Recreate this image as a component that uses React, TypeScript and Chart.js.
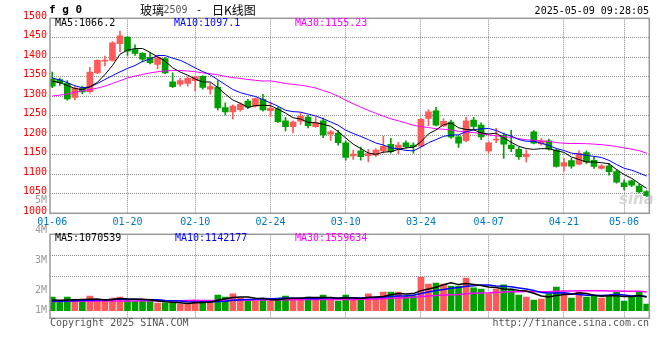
import { useEffect, useRef } from 'react';
import { Chart, registerables } from 'chart.js';

Chart.register(...registerables);

// ---------------- data ----------------
const dates = [
  '01-06','01-07','01-08','01-09','01-10','01-13','01-14','01-15','01-16','01-17',
  '01-20','01-21','01-22','01-23','01-24','01-27','02-05','02-06','02-07','02-10',
  '02-11','02-12','02-13','02-14','02-17','02-18','02-19','02-20','02-21','02-24',
  '02-25','02-26','02-27','02-28','03-03','03-04','03-05','03-06','03-07','03-10',
  '03-11','03-12','03-13','03-14','03-17','03-18','03-19','03-20','03-21','03-24',
  '03-25','03-26','03-27','03-28','03-31','04-01','04-02','04-03','04-07','04-08',
  '04-09','04-10','04-11','04-14','04-15','04-16','04-17','04-18','04-21','04-22',
  '04-23','04-24','04-25','04-28','04-29','04-30','05-06','05-07','05-08','05-09',
];

const opens = [
  1344,1343,1333,1297,1321,1312,1360,1390,1392,1435,
  1452,1420,1410,1400,1382,1397,1337,1331,1333,1340,
  1351,1318,1323,1271,1260,1266,1288,1275,1292,1263,
  1268,1237,1222,1236,1247,1222,1237,1203,1206,1181,
  1147,1160,1148,1149,1160,1177,1165,1181,1175,1172,
  1243,1263,1224,1234,1196,1186,1239,1226,1160,1188,
  1200,1175,1164,1145,1209,1178,1186,1162,1121,1135,
  1126,1156,1136,1115,1122,1107,1078,1083,1070,1056,
];
const highs = [
  1362,1347,1340,1325,1326,1374,1394,1403,1440,1467,
  1453,1432,1412,1411,1403,1399,1360,1346,1350,1351,
  1353,1334,1340,1283,1278,1283,1292,1296,1305,1285,
  1272,1246,1237,1258,1251,1247,1244,1213,1213,1186,
  1162,1170,1164,1166,1198,1192,1182,1186,1181,1243,
  1265,1272,1243,1239,1200,1246,1246,1232,1183,1218,
  1206,1213,1170,1162,1212,1192,1190,1165,1141,1141,
  1160,1160,1145,1125,1128,1112,1086,1085,1074,1058,
];
const lows = [
  1322,1328,1290,1291,1306,1308,1358,1378,1390,1414,
  1405,1405,1388,1383,1371,1358,1322,1326,1326,1314,
  1318,1306,1265,1252,1242,1262,1268,1272,1262,1248,
  1233,1211,1206,1228,1219,1220,1194,1187,1175,1136,
  1138,1136,1132,1146,1154,1154,1152,1167,1154,1170,
  1225,1224,1222,1192,1169,1183,1213,1189,1154,1181,
  1141,1158,1138,1132,1178,1175,1162,1118,1108,1116,
  1124,1128,1115,1113,1098,1077,1060,1068,1052,1043,
];
const closes = [
  1326,1335,1293,1321,1311,1362,1392,1393,1437,1455,
  1416,1410,1395,1386,1400,1360,1325,1340,1346,1350,
  1323,1325,1270,1260,1275,1280,1272,1294,1265,1269,
  1235,1222,1234,1249,1225,1232,1201,1209,1181,1143,
  1152,1145,1153,1162,1172,1158,1175,1171,1171,1241,
  1260,1226,1236,1195,1180,1237,1223,1196,1181,1190,
  1177,1166,1145,1152,1180,1186,1165,1120,1130,1121,
  1154,1132,1120,1122,1107,1080,1068,1072,1055,1045,
];
// volume, millions
const volumes = [
  1.18,0.84,1.18,0.92,0.72,1.27,0.92,0.84,1.10,1.18,
  1.01,0.84,0.84,0.84,0.66,0.66,0.66,0.58,0.58,0.92,
  0.84,0.84,1.36,1.18,1.45,1.10,0.84,0.84,1.10,0.84,
  1.10,1.27,1.10,1.10,1.18,1.01,1.36,1.01,0.84,1.36,
  0.92,1.10,1.45,1.10,1.62,1.62,1.62,1.27,1.27,2.92,
  2.31,2.40,2.31,2.14,2.14,2.83,1.97,1.88,1.45,1.88,
  2.23,1.88,1.36,1.18,0.92,1.01,1.45,2.05,1.53,1.10,
  1.62,1.18,1.27,1.10,1.27,1.62,0.84,1.27,1.62,0.58,
];

const ma5Head = [1339, 1335, 1328, 1320];
const ma10Head = [1347, 1342, 1335, 1327, 1322, 1324, 1333, 1343, 1353];
const ma30Head = [
  1301,1303,1306,1310,1314,1317,1321,1326,1333,1340,
  1347,1352,1356,1360,1363,1365,1366,1366,1365,1363,
  1360,1358,1355,1351,1348,1346,1343,1341,1339,
];
const vma5Head = [0.92, 0.90, 0.92, 0.94];
const vma10Head = [0.82, 0.82, 0.84, 0.86, 0.88, 0.90, 0.92, 0.94, 0.96];
const vma30Head = [
  0.80,0.80,0.81,0.81,0.82,0.82,0.83,0.83,0.84,0.84,
  0.85,0.85,0.86,0.86,0.86,0.87,0.87,0.87,0.88,0.88,
  0.88,0.89,0.89,0.90,0.90,0.91,0.91,0.92,0.93,
];

const xTickLabels = ['01-06','01-20','02-10','02-24','03-10','03-24','04-07','04-21','05-06'];
const priceMin = 1000;
const priceMax = 1500;
const priceStep = 50;
const volAxisLabels = ['5M','4M','3M','2M','1M'];

const titleCode = 'f g 0';
const titleParts = ['玻璃', '2509', '-', '日K线图'];
const timestamp = '2025-05-09 09:28:05';
const priceLegend = ['MA5:1066.2', 'MA10:1097.1', 'MA30:1155.23'];
const volLegend = ['MA5:1070539', 'MA10:1142177', 'MA30:1559634'];
const copyright = 'Copyright 2025 SINA.COM';
const siteUrl = 'http://finance.sina.com.cn';
const watermark = 'sina';

// ---------------- styles ----------------
const RED = '#ff5a5a';
const GREEN = '#00a000';
const MA_COLORS = ['#000000', '#0000ff', '#ff00ff'];
const FRAME = '#999999';
const GRID = '#8c8c8c';
const X_LABEL = '#0078c8';
const MONO = '"DejaVu Sans Mono", monospace';
const CJK = '"Noto Sans CJK SC", sans-serif';

function movingAvg(src: number[], n: number, head: number[]): number[] {
  return src.map((_, i) => {
    if (i < n - 1) return head[i];
    let s = 0;
    for (let k = i - n + 1; k <= i; k++) s += src[k];
    return s / n;
  });
}

const N = dates.length;
const X_MIN = -0.3;
const X_MAX = N - 1 + 0.35;
const tickIdx = xTickLabels.map((l) => dates.indexOf(l));
const candleColors = closes.map((c, i) => (c >= opens[i] ? RED : GREEN));

function text(ctx: CanvasRenderingContext2D, s: string, x: number, y: number, color: string, font: string, align: CanvasTextAlign = 'left') {
  ctx.font = font;
  ctx.fillStyle = color;
  ctx.textAlign = align;
  ctx.textBaseline = 'middle';
  ctx.fillText(s, x, y);
}

function xAxis(showLabels: boolean): any {
  return {
    type: 'linear',
    min: X_MIN,
    max: X_MAX,
    offset: false,
    afterBuildTicks: (s: any) => {
      s.ticks = tickIdx.map((v) => ({ value: v }));
    },
    afterFit: (s: any) => {
      s.height = showLabels ? 18.7 : 0;
    },
    ticks: {
      display: showLabels,
      autoSkip: false,
      maxRotation: 0,
      minRotation: 0,
      padding: 3,
      color: X_LABEL,
      font: { family: MONO, size: 10 },
      callback: (v: number) => dates[v],
    },
    grid: {
      display: true,
      drawOnChartArea: true,
      offset: false,
      drawTicks: false,
      lineWidth: 1,
      color: (c: any) => (c.tick && c.tick.value === 0 ? 'rgba(0,0,0,0)' : GRID),
    },
    border: { display: false, dash: [1, 1] },
  };
}

function lineDs(values: number[], color: string, width: number) {
  return {
    type: 'line' as const,
    data: values.map((y, i) => ({ x: i, y })),
    borderColor: color,
    borderWidth: width,
    pointRadius: 0,
    tension: 0,
    fill: false,
    order: 0,
  };
}

const pricePanel = {
  id: 'pricePanel',
  beforeDatasetsDraw(chart: any) {
    const { ctx } = chart;
    ctx.save();
    text(ctx, watermark, 619, 200, '#d6d6d6', `italic bold 15px "DejaVu Sans", sans-serif`);
    ctx.restore();
  },
  afterDraw(chart: any) {
    const { ctx, chartArea: a } = chart;
    ctx.save();
    ctx.strokeStyle = FRAME;
    ctx.lineWidth = 1.5;
    ctx.strokeRect(a.left, a.top, a.right - a.left, a.bottom - a.top);
    text(ctx, titleCode, 49, 10.5, '#000', `bold 11px ${MONO}`);
    text(ctx, titleParts[0], 140, 10, '#000', `12px ${CJK}`);
    text(ctx, titleParts[1], 163.5, 10.5, '#555', `10px ${MONO}`);
    text(ctx, titleParts[2], 196, 10.5, '#000', `10px ${MONO}`);
    text(ctx, titleParts[3], 212, 10, '#000', `12px ${CJK}`);
    text(ctx, timestamp, 649, 11, '#000', `10px ${MONO}`, 'right');
    const lx = [55, 174, 295];
    priceLegend.forEach((s, i) => text(ctx, s, lx[i], 23.5, MA_COLORS[i], `10px ${MONO}`));
    ctx.restore();
  },
};

const volPanel = {
  id: 'volPanel',
  afterDraw(chart: any) {
    const { ctx, chartArea: a } = chart;
    ctx.save();
    ctx.strokeStyle = FRAME;
    ctx.lineWidth = 1.5;
    ctx.strokeRect(a.left, a.top, a.right - a.left, a.bottom - a.top);
    const lx = [55, 175, 295];
    volLegend.forEach((s, i) => text(ctx, s, lx[i], a.top + 4, MA_COLORS[i], `10px ${MONO}`));
    const ly = [10.5, 40.7, 70.7, 100.7, 120.7];
    volAxisLabels.forEach((s, i) => text(ctx, s, 47, ly[i], '#999', `10px ${MONO}`, 'right'));
    text(ctx, copyright, 50, a.bottom + 5, '#555', `10px ${MONO}`);
    text(ctx, siteUrl, 649, a.bottom + 5, '#555', `10px ${MONO}`, 'right');
    ctx.restore();
  },
};

function priceConfig(): any {
  const ma5 = movingAvg(closes, 5, ma5Head);
  const ma10 = movingAvg(closes, 10, ma10Head);
  const ma30 = movingAvg(closes, 30, ma30Head);
  return {
    type: 'line',
    data: {
      datasets: [
        lineDs(ma5, MA_COLORS[0], 1),
        lineDs(ma10, MA_COLORS[1], 1),
        lineDs(ma30, MA_COLORS[2], 1),
        {
          type: 'bar',
          data: dates.map((_, i) => ({ x: i, y: [opens[i], closes[i]] })),
          backgroundColor: candleColors,
          barThickness: 6,
          grouped: false,
          minBarLength: 1,
          order: 1,
        },
        {
          type: 'bar',
          data: dates.map((_, i) => ({ x: i, y: [lows[i], highs[i]] })),
          backgroundColor: candleColors,
          barThickness: 1,
          grouped: false,
          order: 2,
        },
      ],
    },
    options: {
      responsive: false,
      maintainAspectRatio: false,
      animation: false,
      devicePixelRatio: 1,
      layout: { padding: { top: 18.3, right: 10.7, bottom: 0, left: 0 } },
      plugins: { legend: { display: false }, tooltip: { enabled: false }, title: { display: false } },
      scales: {
        x: xAxis(true),
        y: {
          type: 'linear',
          min: priceMin,
          max: priceMax,
          afterFit: (s: any) => {
            s.width = 50;
          },
          ticks: {
            stepSize: priceStep,
            color: '#ff0000',
            font: { family: MONO, size: 10 },
            padding: 3,
            labelOffset: -2,
            callback: (v: number) => String(v),
          },
          grid: { display: true, drawOnChartArea: true, drawTicks: false, lineWidth: 1, color: GRID },
          border: { display: false, dash: [1, 1] },
        },
      },
    },
    plugins: [pricePanel],
  };
}

function volConfig(): any {
  const v5 = movingAvg(volumes, 5, vma5Head);
  const v10 = movingAvg(volumes, 10, vma10Head);
  const v30 = movingAvg(volumes, 30, vma30Head);
  return {
    type: 'line',
    data: {
      datasets: [
        { ...lineDs(v5, MA_COLORS[0], 1.5), yAxisID: 'y' },
        { ...lineDs(v10, MA_COLORS[1], 1.5), yAxisID: 'y' },
        { ...lineDs(v30, MA_COLORS[2], 1.5), yAxisID: 'y' },
        {
          type: 'bar',
          data: volumes.map((y, i) => ({ x: i, y })),
          backgroundColor: candleColors,
          barThickness: 6,
          grouped: false,
          yAxisID: 'y',
          order: 1,
        },
      ],
    },
    options: {
      responsive: false,
      maintainAspectRatio: false,
      animation: false,
      devicePixelRatio: 1,
      layout: { padding: { top: 44.3, right: 10.7, bottom: 41.7, left: 50 } },
      plugins: { legend: { display: false }, tooltip: { enabled: false }, title: { display: false } },
      scales: {
        x: xAxis(false),
        y: { type: 'linear', display: false, min: -0.66, max: 6.62 },
        yg: {
          type: 'linear',
          position: 'left',
          min: 0,
          max: 4,
          afterBuildTicks: (s: any) => {
            s.ticks = [{ value: 2 }, { value: 3 }];
          },
          afterFit: (s: any) => {
            s.width = 0;
          },
          ticks: { display: false },
          grid: { display: true, drawOnChartArea: true, drawTicks: false, lineWidth: 1, color: GRID },
          border: { display: false, dash: [1, 1] },
        },
      },
    },
    plugins: [volPanel],
  };
}

export default function App() {
  const priceRef = useRef<HTMLCanvasElement>(null);
  const volRef = useRef<HTMLCanvasElement>(null);
  useEffect(() => {
    const c1 = new Chart(priceRef.current as HTMLCanvasElement, priceConfig());
    const c2 = new Chart(volRef.current as HTMLCanvasElement, volConfig());
    return () => {
      c1.destroy();
      c2.destroy();
    };
  }, []);
  return (
    <div style={{ position: 'absolute', left: 0, top: 0, width: 660, height: 360, background: '#fff', overflow: 'hidden' }}>
      <canvas ref={priceRef} width={660} height={232} style={{ position: 'absolute', left: 0, top: 0 }} />
      <canvas ref={volRef} width={660} height={170} style={{ position: 'absolute', left: 0, top: 190 }} />
    </div>
  );
}
